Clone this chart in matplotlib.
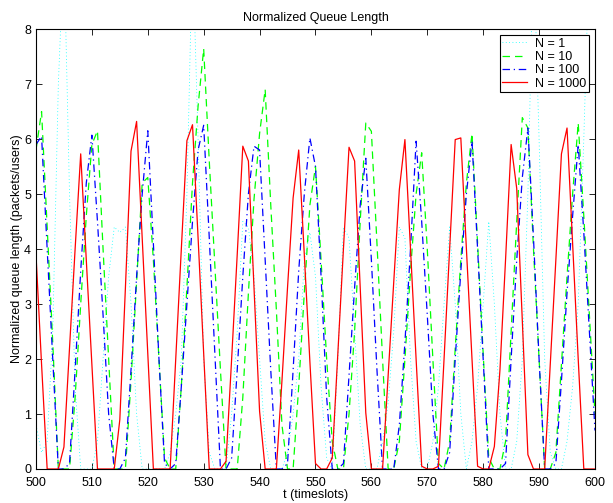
import matplotlib
matplotlib.use("Agg")
import matplotlib.pyplot as plt
import numpy as np

plt.rcParams['font.family'] = ['Liberation Sans', 'DejaVu Sans']

t = list(range(500, 601))

n1 = [0.8, 0.3, 0.5, 2.5, 7.0, 9.5, 5.0, 1.5, 0.0, 0.0,
      0.0, 0.5, 2.0, 3.5, 4.4, 4.3, 4.4, 3.0, 1.0, 0.0,
      0.0, 0.0, 0.0, 0.0, 0.3, 1.0, 2.0, 5.0, 9.5, 6.0,
      2.0, 0.3, 0.0, 0.0, 0.0, 1.0, 2.5, 4.5, 4.4, 3.5,
      2.0, 0.5, 0.0, 0.0, 0.0, 0.3, 1.0, 2.0, 3.8, 4.3,
      3.5, 1.5, 0.2, 0.0, 2.0, 4.4, 4.2, 2.5, 0.8, 0.0,
      0.0, 0.0, 0.5, 1.2, 2.5, 4.4, 4.2, 2.0, 0.5, 0.0,
      0.0, 0.5, 1.5, 3.0, 4.4, 3.0, 1.0, 0.0, 0.5, 1.5,
      3.0, 4.5, 3.0, 1.0, 0.0, 0.0, 0.5, 2.0, 5.0, 9.5,
      6.0, 2.0, 0.3, 0.0, 0.0, 0.5, 1.5, 3.0, 6.0, 9.5,
      8.5]

n10 = [5.8, 6.5, 4.4, 2.3, 0.0, 0.0, 0.0, 1.3, 3.0, 4.6,
       5.9, 6.15, 4.0, 2.0, 0.0, 0.0, 0.0, 1.6, 3.4, 5.2,
       5.3, 3.8, 2.0, 0.2, 0.0, 0.0, 1.5, 3.3, 5.2, 6.6,
       7.64, 5.6, 3.7, 1.8, 0.0, 0.0, 0.0, 1.3, 3.2, 4.9,
       6.1, 6.9, 4.8, 2.9, 0.8, 0.0, 0.0, 1.5, 3.2, 4.8,
       5.5, 3.8, 2.0, 0.5, 0.0, 0.0, 1.0, 2.5, 4.5, 6.29,
       6.14, 4.1, 2.0, 0.0, 0.0, 0.5, 2.0, 3.6, 5.0, 5.75,
       4.0, 2.0, 0.1, 0.0, 0.5, 2.2, 3.8, 5.2, 6.1, 4.1,
       2.1, 0.2, 0.0, 0.0, 0.5, 2.5, 4.5, 6.39, 6.2, 4.0,
       2.0, 0.0, 0.0, 0.3, 1.9, 3.5, 5.0, 6.29, 4.6, 2.8,
       1.0]

n100 = [5.9, 6.05, 4.0, 2.0, 0.0, 0.0, 0.1, 1.8, 3.6, 5.2,
        6.07, 4.5, 2.8, 1.0, 0.0, 0.0, 0.2, 1.8, 3.5, 5.0,
        6.15, 4.1, 2.0, 0.1, 0.0, 0.1, 1.5, 3.0, 4.5, 5.8,
        6.25, 4.2, 2.1, 0.0, 0.0, 0.2, 1.8, 3.5, 5.0, 5.87,
        5.8, 3.8, 1.8, 0.0, 0.0, 0.1, 1.8, 3.6, 5.0, 6.02,
        5.5, 3.5, 1.3, 0.0, 0.0, 0.1, 1.7, 3.3, 4.8, 5.65,
        3.8, 1.8, 0.0, 0.0, 0.0, 0.8, 2.3, 4.0, 5.96, 4.5,
        2.8, 1.0, 0.0, 0.0, 0.3, 2.0, 3.6, 5.0, 5.96, 4.0,
        2.0, 0.0, 0.0, 0.0, 0.1, 2.0, 3.8, 5.3, 6.2, 4.2,
        2.0, 0.0, 0.0, 0.1, 1.6, 3.2, 4.6, 5.9, 4.3, 2.5,
        0.7]

n1000 = [3.9, 1.9, 0.0, 0.0, 0.0, 0.4, 2.2, 4.0, 5.73, 3.8,
         1.9, 0.0, 0.0, 0.0, 0.0, 0.9, 3.3, 5.78, 6.32, 4.2,
         2.1, 0.0, 0.0, 0.0, 0.0, 2.0, 4.0, 5.97, 6.26, 4.2,
         2.1, 0.0, 0.0, 0.0, 0.14, 2.0, 3.9, 5.87, 5.6, 3.3,
         1.05, 0.0, 0.0, 0.0, 1.6, 3.3, 4.93, 5.8, 3.9, 1.95,
         0.1, 0.0, 0.0, 0.2, 2.1, 4.0, 5.85, 5.6, 3.3, 1.02,
         0.0, 0.0, 0.0, 1.7, 3.4, 5.08, 5.99, 4.0, 2.0, 0.05,
         0.0, 0.0, 0.05, 2.0, 4.0, 5.99, 6.02, 4.0, 2.0, 0.05,
         0.0, 0.0, 0.41, 1.8, 3.8, 5.9, 5.1, 2.7, 0.26, 0.0,
         0.0, 0.0, 1.9, 3.8, 5.73, 6.2, 4.1, 2.0, 0.0, 0.0,
         0.0]

labels = ['N = 1', 'N = 10', 'N = 100', 'N = 1000']

fig = plt.figure(figsize=(6.13, 5.03), dpi=100)
ax = fig.add_axes([0.0587, 0.0676, 0.9119, 0.8747])

ax.plot(t, n1, color=(0, 1, 1), linestyle=(0, (1, 3)), linewidth=0.6, label=labels[0])
ax.plot(t, n10, color=(0, 1, 0), linestyle=(0, (6, 4)), linewidth=0.9, label=labels[1])
ax.plot(t, n100, color=(0, 0, 1), linestyle=(0, (6, 3, 1, 3)), linewidth=0.9, label=labels[2])
ax.plot(t, n1000, color=(1, 0, 0), linestyle='-', linewidth=0.9, label=labels[3])

ax.set_xlim(500, 600)
ax.set_ylim(0, 8)
ax.set_xticks(range(500, 601, 10))
ax.set_yticks(range(0, 9))
ax.tick_params(direction='in', top=True, right=True, labelsize=9, length=4, width=0.6)
ax.tick_params(axis='x', pad=6)
for s in ax.spines.values():
    s.set_linewidth(0.8)

ax.set_title('Normalized Queue Length', fontsize=9, pad=6)
ax.set_xlabel('t (timeslots)', fontsize=9, labelpad=0)
ax.set_ylabel('Normalized queue length (packets/users)', fontsize=9, labelpad=1)

leg = ax.legend(loc='upper right', fontsize=9, frameon=True, fancybox=False,
                borderpad=0.2, labelspacing=0.1, handlelength=2.0,
                handletextpad=0.6, borderaxespad=0.5)
leg.get_frame().set_edgecolor('black')
leg.get_frame().set_linewidth(0.8)
leg.get_frame().set_alpha(1)

fig.savefig('out.png', dpi=100)
